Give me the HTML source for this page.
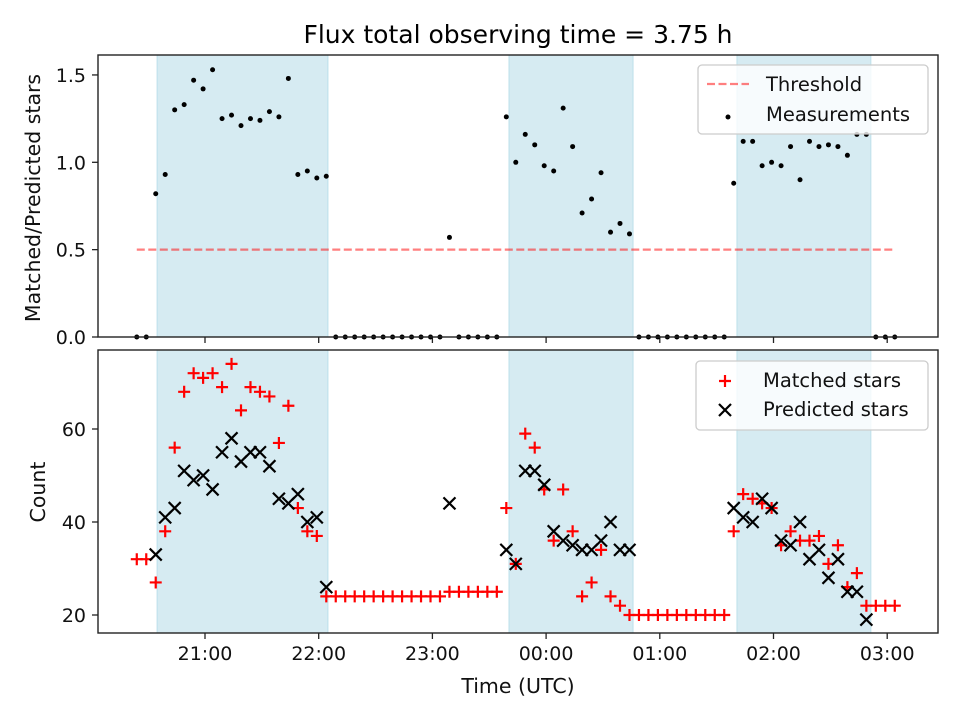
<!DOCTYPE html>
<html><head><meta charset="utf-8"><style>
body{margin:0;background:#fff;width:960px;height:720px;overflow:hidden}
svg{display:block;font-family:"DejaVu Sans","Liberation Sans",sans-serif}
</style></head><body>
<svg id="chart" width="960" height="720" xmlns="http://www.w3.org/2000/svg">
<rect width="960" height="720" fill="#fff"/>
<text x="518" y="43" font-size="25" text-anchor="middle">Flux total observing time = 3.75 h</text>
<g id="gtop"></g><g id="gbot"></g>
</svg>
<script>
const timeStart = 24, timeStep = 5; // minutes after 20:00
const matched = [32,32,27,38,56,68,72,71,72,69,74,64,69,68,67,57,65,43,38,37,24,
24,24,24,24,24,24,24,24,24,24,24,24,
25,25,25,25,25,25,
43,31,59,56,47,36,47,38,24,27,34,24,22,20,
20,20,20,20,20,20,20,20,20,20,
38,46,45,44,43,35,38,36,36,37,31,35,26,29,22,
22,22,22];
const predicted = [null,null,33,41,43,51,49,50,47,55,58,53,55,55,52,45,44,46,40,41,26,
null,null,null,null,null,null,null,null,null,null,null,null,
44,null,null,null,null,null,
34,31,51,51,48,38,36,35,34,34,36,40,34,34,
null,null,null,null,null,null,null,null,null,null,
43,41,40,45,43,36,35,40,32,34,28,32,25,25,19,
null,null,null];
const ratio = [0,0,.82,.93,1.30,1.33,1.47,1.42,1.53,1.25,1.27,1.21,1.25,1.24,1.29,1.26,1.48,.93,.95,.91,.92,
0,0,0,0,0,0,0,0,0,0,0,0,
.57,0,0,0,0,0,
1.26,1.00,1.16,1.10,.98,.95,1.31,1.09,.71,.79,.94,.60,.65,.59,
0,0,0,0,0,0,0,0,0,0,
.88,1.12,1.12,.98,1.00,.98,1.09,.90,1.12,1.09,1.10,1.09,1.04,1.16,1.16,
0,0,0];
const spans = [[34.7,124.9],[220.4,285.9],[340.7,411.4]];
const threshold = 0.5;
const xTickMinutes = [60,120,180,240,300,360,420];
const xTickLabels = ["21:00","22:00","23:00","00:00","01:00","02:00","03:00"];
const topTicks = [0,0.5,1.0,1.5];
const topTickLabels = ["0.0","0.5","1.0","1.5"];
const botTicks = [20,40,60];

const NS="http://www.w3.org/2000/svg";
const L=98,R=938;
const X=t=>205+(t-60)*(113.7/60);
const TT=55,TB=337, YT=v=>337-v*174.7;
const BT=350,BB=633, YB=v=>615-(v-20)*4.65;
function el(tag,attrs,parent,text){const e=document.createElementNS(NS,tag);for(const k in attrs)e.setAttribute(k,attrs[k]);if(text!=null)e.textContent=text;parent.appendChild(e);return e;}
const gTop=document.getElementById('gtop'), gBot=document.getElementById('gbot');
const times=matched.map((_,i)=>timeStart+timeStep*i);

function axes(g,yT,yB,Y,ticks,labels,name,showX){
  spans.forEach((s,i)=>{const r=el('rect',{x:X(s[0]),y:yT,width:X(s[1])-X(s[0]),height:yB-yT,fill:'#add8e6','fill-opacity':0.5,stroke:'#add8e6','stroke-opacity':0.7},g);
    
    });
  ticks.forEach((v,i)=>{const y=Y(v);
    el('line',{x1:L-6,x2:L,y1:y,y2:y,stroke:'#222','stroke-width':1.3},g);
    const t=el('text',{x:L-12,y:y+7,'font-size':19,'text-anchor':'end',fill:'#111'},g,labels[i]);
    
    });
  xTickMinutes.forEach((m,i)=>{const x=X(m);
    el('line',{x1:x,x2:x,y1:yB,y2:yB+6,stroke:'#222','stroke-width':1.3},g);
    if(showX){const t=el('text',{x:x,y:yB+27,'font-size':19,'text-anchor':'middle',fill:'#111'},g,xTickLabels[i]);
      
      }});
}
function frame(g,yT,yB,name){const f=el('rect',{x:L,y:yT,width:R-L,height:yB-yT,fill:'none',stroke:'#222','stroke-width':1.4},g);
  
  }

// top
axes(gTop,TT,TB,YT,topTicks,topTickLabels,'top',false);
const th=el('line',{x1:X(times[0]),x2:X(times[times.length-1]),y1:YT(threshold),y2:YT(threshold),stroke:'#ff0000','stroke-opacity':0.5,'stroke-width':2.2,'stroke-dasharray':'8,3.5'},gTop);


ratio.forEach((v,i)=>{const c=el('circle',{cx:X(times[i]),cy:YT(v),r:2.5,fill:'#000'},gTop);
  
  });
frame(gTop,TT,TB,'top');
const tyl=el('text',{transform:'translate(40,198) rotate(-90)','font-size':20.5,'text-anchor':'middle',fill:'#111'},gTop,'Matched/Predicted stars');


const lg1=el('g',{},gTop);


el('rect',{x:698,y:65,width:230,height:69,rx:4,fill:'#fff','fill-opacity':0.8,stroke:'#ccc','stroke-width':1.3},lg1);
el('line',{x1:707,x2:749,y1:84,y2:84,stroke:'#ff0000','stroke-opacity':0.5,'stroke-width':2.2,'stroke-dasharray':'8,3.5'},lg1);
el('text',{x:766,y:91,'font-size':19.5,fill:'#111'},lg1,'Threshold');
el('circle',{cx:728,cy:117,r:2.5,fill:'#000'},lg1);
el('text',{x:766,y:121,'font-size':19.5,fill:'#111'},lg1,'Measurements');

// bottom
axes(gBot,BT,BB,YB,botTicks,botTicks.map(String),'bottom',true);
function plus(g,x,y,name){const p=el('path',{d:`M${x-6},${y}H${x+6}M${x},${y-6}V${y+6}`,stroke:'#ff0000','stroke-width':2.2},g);
  
  }
function cross(g,x,y,name){const p=el('path',{d:`M${x-6},${y-6}L${x+6},${y+6}M${x-6},${y+6}L${x+6},${y-6}`,stroke:'#000','stroke-width':2.2},g);
  
  }
matched.forEach((v,i)=>plus(gBot,X(times[i]),YB(v),'matched-star-point'));
predicted.forEach((v,i)=>{if(v!=null)cross(gBot,X(times[i]),YB(v),'predicted-star-point');});
frame(gBot,BT,BB,'bottom');
const byl=el('text',{transform:'translate(45,492) rotate(-90)','font-size':20.5,'text-anchor':'middle',fill:'#111'},gBot,'Count');


const xl=el('text',{x:518,y:693,'font-size':20.5,'text-anchor':'middle',fill:'#111'},gBot,'Time (UTC)');


const lg2=el('g',{},gBot);


el('rect',{x:696,y:361,width:232,height:69,rx:4,fill:'#fff','fill-opacity':0.8,stroke:'#ccc','stroke-width':1.3},lg2);
plus(lg2,725,381,'legend-matched-marker');
el('text',{x:763,y:387,'font-size':19.5,fill:'#111'},lg2,'Matched stars');
cross(lg2,725,410,'legend-predicted-marker');
el('text',{x:763,y:416,'font-size':19.5,fill:'#111'},lg2,'Predicted stars');
</script>
</body></html>
